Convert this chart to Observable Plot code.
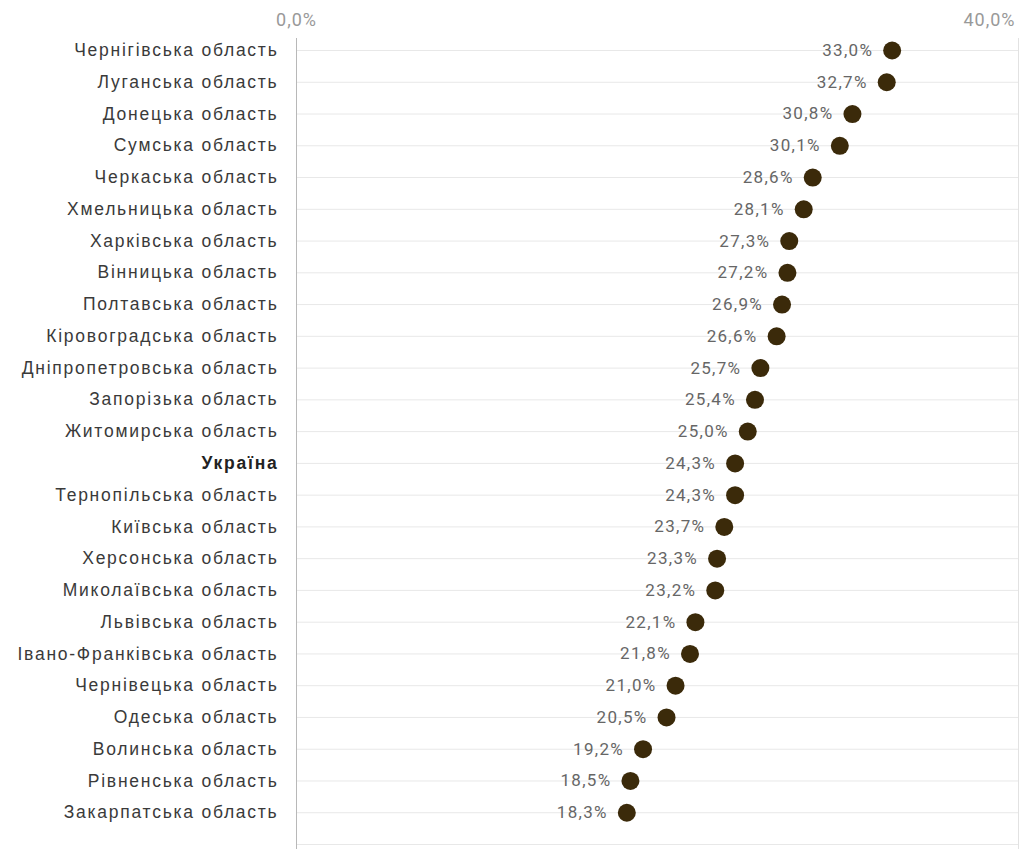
<!DOCTYPE html>
<html><head><meta charset="utf-8">
<script src="https://cdn.jsdelivr.net/npm/d3@7"></script>
<script src="https://cdn.jsdelivr.net/npm/@observablehq/plot@0.6"></script>
<style>body{margin:0;background:#fff;} #chart svg{display:block;}</style>
</head><body><div id="chart"></div>
<script>
const regions = ["Чернігівська область","Луганська область","Донецька область","Сумська область","Черкаська область","Хмельницька область","Харківська область","Вінницька область","Полтавська область","Кіровоградська область","Дніпропетровська область","Запорізька область","Житомирська область","Україна","Тернопільська область","Київська область","Херсонська область","Миколаївська область","Львівська область","Івано-Франківська область","Чернівецька область","Одеська область","Волинська область","Рівненська область","Закарпатська область"];
const values = [33.0,32.7,30.8,30.1,28.6,28.1,27.3,27.2,26.9,26.6,25.7,25.4,25.0,24.3,24.3,23.7,23.3,23.2,22.1,21.8,21.0,20.5,19.2,18.5,18.3];
const xTicks = [0, 40];
const highlight = "Україна";

const data = regions.map((r, i) => ({region: r, value: values[i]}));
const domainY = [...regions, " "];
const fmt = v => v.toFixed(1).replace(".", ",") + "%";
const labelFont = "'Liberation Sans', Arial, sans-serif";
const numFont = "Roboto, 'Liberation Sans', sans-serif";

const chart = Plot.plot({
  width: 1022,
  height: 849,
  marginLeft: 296,
  marginRight: 4,
  marginTop: 50,
  marginBottom: 5,
  style: {fontFamily: numFont, fontSize: "15px", background: "#fff"},
  x: {domain: [0, 40], axis: null, label: null},
  y: {type: "point", domain: domainY, padding: 0, round: false, axis: null, label: null},
  marks: [
    Plot.gridY(domainY, {stroke: "#e8e8e8", strokeOpacity: 1}),
    Plot.ruleX([40], {stroke: "#e2e2e2", insetTop: -12, insetBottom: -5}),
    Plot.ruleX([0], {stroke: "#b8b8b8", insetTop: -12, insetBottom: -5}),
    Plot.axisX([xTicks[0]], {anchor: "top", tickSize: 0, tickPadding: 25, tickFormat: fmt, fill: "#999", textAnchor: "middle", fontSize: 18, fontFamily: numFont, label: null, ariaDescription: "tick"}),
    Plot.axisX([xTicks[1]], {anchor: "top", tickSize: 0, tickPadding: 25, tickFormat: fmt, fill: "#999", textAnchor: "end", fontSize: 18, fontFamily: numFont, dx: -3, label: null, ariaDescription: "tick"}),
    Plot.text(data.filter(d => d.region !== highlight), {x: () => 0, y: "region", text: "region", textAnchor: "end", dx: -18, fill: "#3a3a3a", fontSize: 17.5, fontFamily: labelFont, ariaDescription: "rlabel"}),
    Plot.text(data.filter(d => d.region === highlight), {x: () => 0, y: "region", text: "region", textAnchor: "end", dx: -18, fill: "#222", fontSize: 17.5, fontFamily: labelFont, fontWeight: "bold", ariaDescription: "rlabel"}),
    Plot.text(data, {x: "value", y: "region", text: d => fmt(d.value), textAnchor: "end", dx: -19, fill: "#666", fontSize: 17, fontFamily: numFont, ariaDescription: "vlabel"}),
    Plot.dot(data, {x: "value", y: "region", r: 9, fill: "#3b2a0a", stroke: "none"})
  ]
});
const sel = d3.select(chart);
sel.selectAll('[aria-description="rlabel"] text').style("letter-spacing", "1.75px");
sel.selectAll('[aria-description="vlabel"] text').style("letter-spacing", "1.3px");
sel.selectAll('[aria-description="tick"] text').style("letter-spacing", "1px");
document.getElementById("chart").append(chart);
</script>
</body></html>
